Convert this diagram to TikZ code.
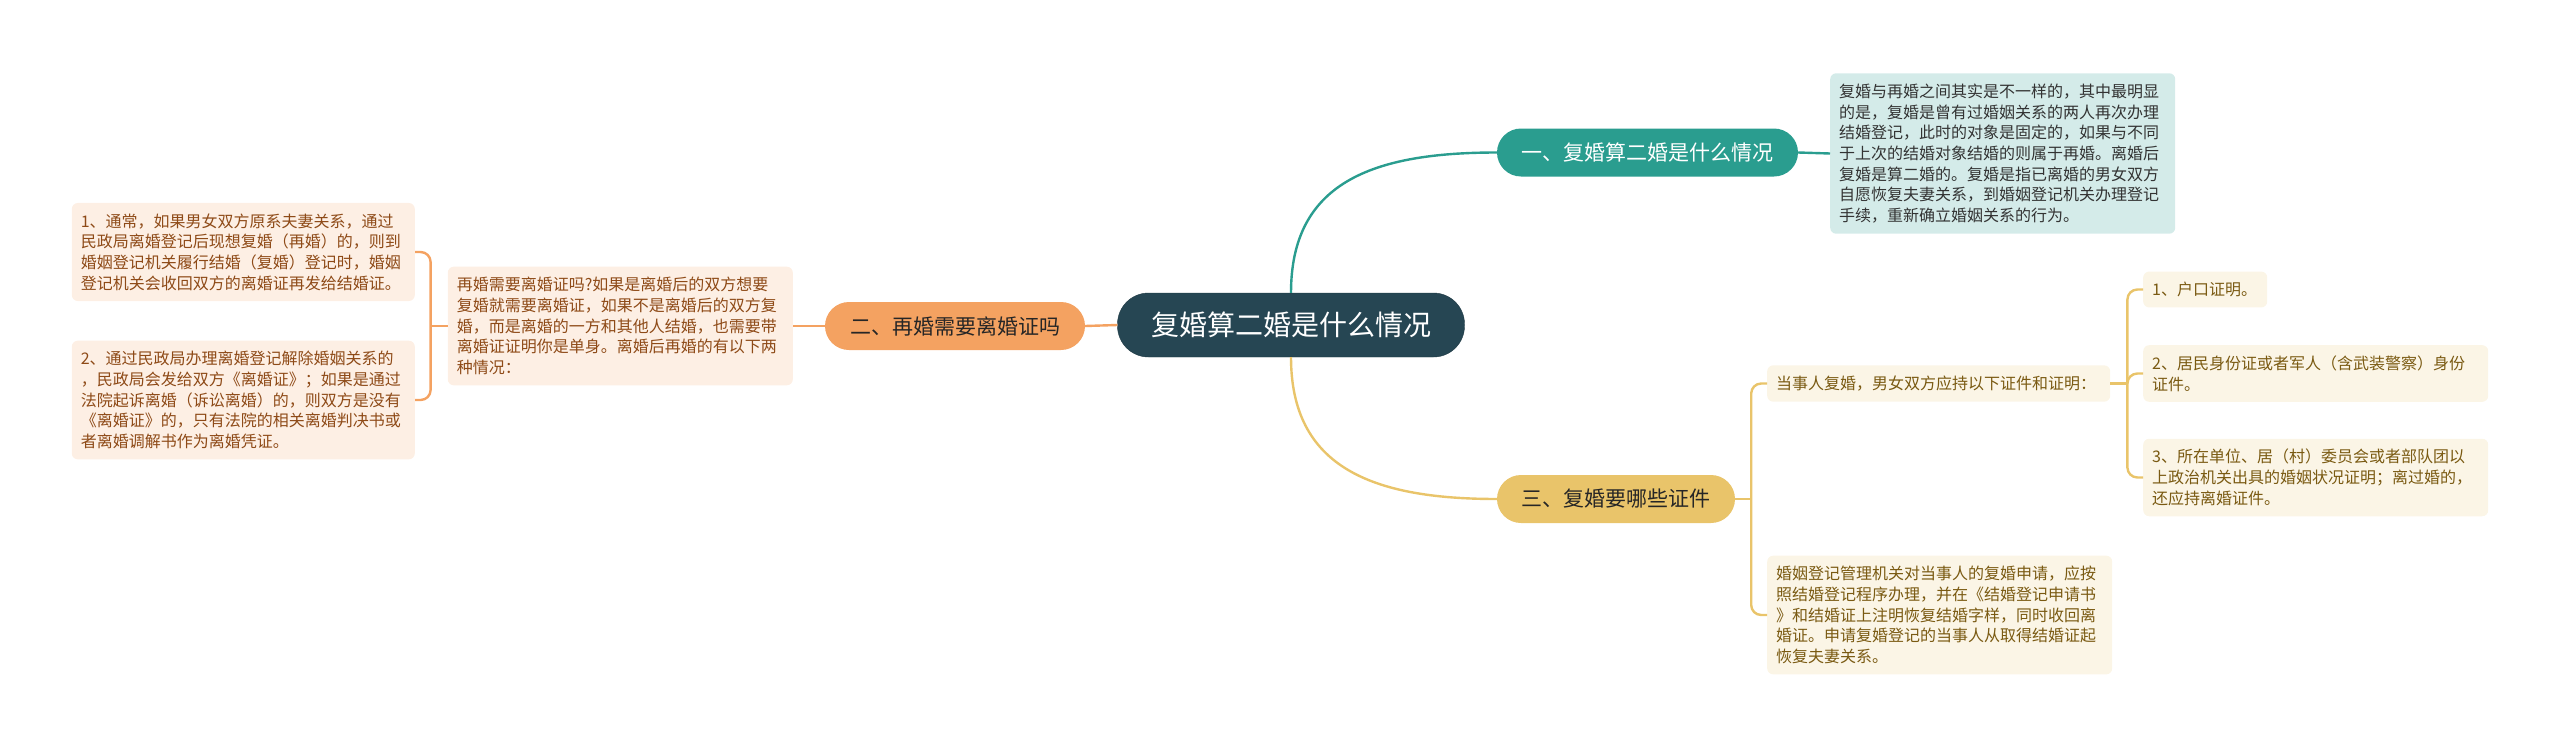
\documentclass[tikz,border=0pt]{standalone}
\usepackage{fontspec}
\newfontfamily\cjk{Noto Sans CJK SC}
\definecolor{rootc}{HTML}{264653}
\definecolor{tealc}{HTML}{2A9D8F}
\definecolor{orangec}{HTML}{F4A261}
\definecolor{yellowc}{HTML}{E9C46A}
\definecolor{orangetxt}{HTML}{8E4A17}
\definecolor{yellowtxt}{HTML}{7A5A12}

\begin{document}
\begin{tikzpicture}[x=1pt, y=-1pt,
  root/.style={rectangle, rounded corners=31pt, fill=rootc, draw=rootc!80!black, text=white, minimum width=347pt, minimum height=64pt, font=\cjk\fontsize{28}{34}\selectfont},
  topic/.style={rectangle, rounded corners=24pt, fill=#1, minimum height=48pt, font=\cjk\fontsize{21}{26}\selectfont},
  leaf/.style={rectangle, rounded corners=6pt, align=left, inner xsep=9pt, inner ysep=10.5pt, font=\cjk\fontsize{16}{20.7}\selectfont},
  tealleaf/.style={leaf, fill=tealc!20, text=black!80},
  orangeleaf/.style={leaf, fill=orangec!17, text=orangetxt},
  yellowleaf/.style={leaf, fill=yellowc!17, text=yellowtxt},
  link/.style={line width=2.4pt, #1},
  bracket/.style={line width=2.4pt, rounded corners=10pt, #1}]

  \useasboundingbox (0,0) rectangle (2560,747);

  \node[root] (center) at (1291,325) {复婚算二婚是什么情况};

  \node[topic=tealc, text=white, minimum width=301pt] (one) at (1647.5,152.5) {一、复婚算二婚是什么情况};
  \node[topic=orangec, text=black!85, minimum width=260pt] (two) at (955,326) {二、再婚需要离婚证吗};
  \node[topic=yellowc, text=black!85, minimum width=238pt] (three) at (1616,499) {三、复婚要哪些证件};

  \node[tealleaf, text width=327pt, anchor=west] (onetext) at (1830,153.5) {复婚与再婚之间其实是不一样的，其中最明显\\的是，复婚是曾有过婚姻关系的两人再次办理\\结婚登记，此时的对象是固定的，如果与不同\\于上次的结婚对象结婚的则属于再婚。离婚后\\复婚是算二婚的。复婚是指已离婚的男女双方\\自愿恢复夫妻关系，到婚姻登记机关办理登记\\手续，重新确立婚姻关系的行为。};

  \node[orangeleaf, text width=327pt, anchor=east] (twotext) at (793,326) {再婚需要离婚证吗?如果是离婚后的双方想要\\复婚就需要离婚证，如果不是离婚后的双方复\\婚，而是离婚的一方和其他人结婚，也需要带\\离婚证证明你是单身。离婚后再婚的有以下两\\种情况：};
  \node[orangeleaf, text width=325pt, anchor=east] (caseone) at (415,252) {1、通常，如果男女双方原系夫妻关系，通过\\民政局离婚登记后现想复婚（再婚）的，则到\\婚姻登记机关履行结婚（复婚）登记时，婚姻\\登记机关会收回双方的离婚证再发给结婚证。};
  \node[orangeleaf, text width=325pt, anchor=east] (casetwo) at (415,400) {2、通过民政局办理离婚登记解除婚姻关系的\\，民政局会发给双方《离婚证》；如果是通过\\法院起诉离婚（诉讼离婚）的，则双方是没有\\《离婚证》的，只有法院的相关离婚判决书或\\者离婚调解书作为离婚凭证。};

  \node[yellowleaf, text width=325pt, anchor=west] (docs) at (1767,383.5) {当事人复婚，男女双方应持以下证件和证明：};
  \node[yellowleaf, text width=327pt, anchor=west] (procedure) at (1767,615) {婚姻登记管理机关对当事人的复婚申请，应按\\照结婚登记程序办理，并在《结婚登记申请书\\》和结婚证上注明恢复结婚字样，同时收回离\\婚证。申请复婚登记的当事人从取得结婚证起\\恢复夫妻关系。};
  \node[yellowleaf, text width=106pt, anchor=west] (docone) at (2143,289.5) {1、户口证明。};
  \node[yellowleaf, text width=327pt, anchor=west] (doctwo) at (2143,373.5) {2、居民身份证或者军人（含武装警察）身份\\证件。};
  \node[yellowleaf, text width=327pt, anchor=west] (docthree) at (2143,477.5) {3、所在单位、居（村）委员会或者部队团以\\上政治机关出具的婚姻状况证明；离过婚的，\\还应持离婚证件。};

  \coordinate (twobr) at ([xshift=-17pt]twotext.west);
  \coordinate (threebr) at ([xshift=16pt]three.east);
  \coordinate (docbr) at ([xshift=17pt]docs.east);

  \draw[link=tealc] (center.north) .. controls +(0,-110) and +(-125,0) .. (one.west);
  \draw[link=yellowc] (center.south) .. controls +(0,110) and +(-125,0) .. (three.west);
  \draw[link=orangec] (center.west) -- (two.east);

  \draw[link=tealc] (one.east) -- (onetext.west);
  \draw[link=orangec] (two.west) -- (twotext.east);
  \draw[link=orangec] (twotext.west) -- (twobr);
  \draw[bracket=orangec] (caseone.east) -| (twobr) |- (casetwo.east);

  \draw[link=yellowc] (three.east) -- (threebr);
  \draw[bracket=yellowc] (docs.west) -| (threebr) |- (procedure.west);
  \draw[link=yellowc] (docs.east) -- (docbr);
  \draw[bracket=yellowc] (docone.west) -| (docbr) |- (docthree.west);
  \draw[bracket=yellowc] (docbr) |- (doctwo.west);
\end{tikzpicture}
\end{document}
